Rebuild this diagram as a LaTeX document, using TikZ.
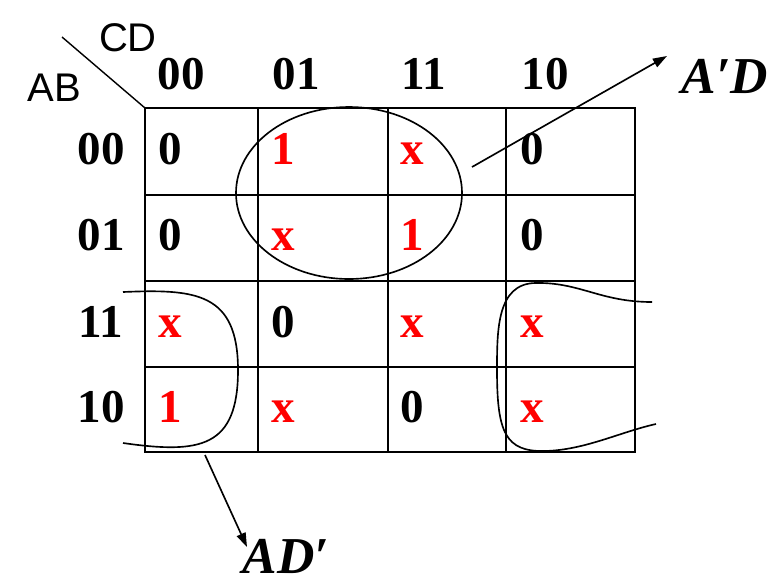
\documentclass[tikz,border=0pt]{standalone}
\usepackage{fontspec}
\setmainfont{Liberation Serif}
\setsansfont{Liberation Sans}
\usepackage{tikz}
\usetikzlibrary{arrows.meta,positioning}
\definecolor{kmapred}{HTML}{FF0000}

\begin{document}
\begin{tikzpicture}[
        x=0.85pt, y=-0.85pt,
        headstyle/.style={font=\fontsize{40}{40}\selectfont\bfseries, inner sep=0pt, anchor=base},
        varstyle/.style={font=\sffamily\fontsize{34}{34}\selectfont, inner sep=0pt},
        zstyle/.style={headstyle},
        ostyle/.style={headstyle, text=kmapred},
        termstyle/.style={font=\fontsize{44}{44}\selectfont\bfseries\itshape, inner sep=0pt},
        gridstyle/.style={line width=1.8pt},
        loopstyle/.style={line width=1.4pt},
        pathstyle/.style={line width=1.4pt, -{Triangle[length=12pt,width=8pt]}}
      ]
        \useasboundingbox (0,0) rectangle (778,585);

        % corner
        \draw[line width=1.2pt] (62,37) -- (145,108);
        \node[varstyle] (CD) at (128,38) {CD};
        \node[varstyle] (AB) at (54,88) {AB};

        % column and row headings
        \node[headstyle] (C00) at (181,89) {00};
        \node[headstyle] (C01) at (296,89) {01};
        \node[headstyle] (C11) at (424,89) {11};
        \node[headstyle] (C10) at (545,89) {10};
        \node[headstyle] (R00) at (101,164) {00};
        \node[headstyle] (R01) at (101,250) {01};
        \node[headstyle] (R11) at (101,337) {11};
        \node[headstyle] (R10) at (101,422) {10};

        % grid
        \draw[gridstyle] (145,108) rectangle (635,452);
        \draw[gridstyle] (258,108) -- (258,452);
        \draw[gridstyle] (388,108) -- (388,452);
        \draw[gridstyle] (506,108) -- (506,452);
        \draw[gridstyle] (145,195) -- (635,195);
        \draw[gridstyle] (145,281) -- (635,281);
        \draw[gridstyle] (145,367) -- (635,367);

        % entries
        \node[zstyle] (E0000) at (170,164) {0};
        \node[ostyle] (E0001) at (283,164) {1};
        \node[ostyle] (E0011) at (412,164) {x};
        \node[zstyle] (E0010) at (532,164) {0};
        \node[zstyle] (E0100) at (170,250) {0};
        \node[ostyle] (E0101) at (283,250) {x};
        \node[ostyle] (E0111) at (412,250) {1};
        \node[zstyle] (E0110) at (532,250) {0};
        \node[ostyle] (E1100) at (170,337) {x};
        \node[zstyle] (E1101) at (283,337) {0};
        \node[ostyle] (E1111) at (412,337) {x};
        \node[ostyle] (E1110) at (532,337) {x};
        \node[ostyle] (E1000) at (170,422) {1};
        \node[ostyle] (E1001) at (283,422) {x};
        \node[zstyle] (E1011) at (412,422) {0};
        \node[ostyle] (E1010) at (532,422) {x};

        % groups
        \draw[loopstyle] (349,193) ellipse [x radius=113, y radius=86];
        \draw[loopstyle] (123,292) .. controls (195,289) and (238,292) .. (238,370)
          .. controls (238,448) and (200,454) .. (123,443);
        \draw[loopstyle] (652,302) .. controls (600,302) and (580,282) .. (535,283)
          .. controls (497,284) and (497,330) .. (497,370)
          .. controls (497,432) and (505,452) .. (545,451)
          .. controls (585,450) and (620,432) .. (656,424);

        % terms
        \node[termstyle] (ApD) at (725,76) {A′D};
        \node[termstyle] (ADp) at (286,556) {AD′};
        \coordinate (ApDfrom) at (472,167);
        \coordinate (ADpfrom) at (205,455);
        \draw[pathstyle] (ApDfrom) -- (667,56);
        \draw[pathstyle] (ADpfrom) -- (247,547);
      \end{tikzpicture}
\end{document}
